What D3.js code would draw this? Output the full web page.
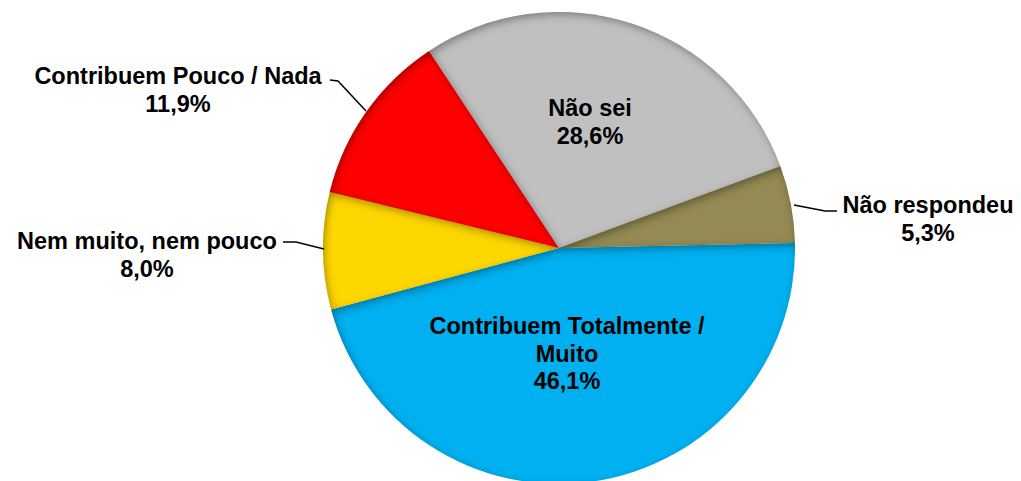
<!DOCTYPE html>
<html><head><meta charset="utf-8">
<script src="https://cdn.jsdelivr.net/npm/d3@7/dist/d3.min.js"></script>
<style>body{margin:0;background:#fff;}text{font-family:"Liberation Sans",Arial,sans-serif;font-weight:bold;font-size:23.5px;fill:#000;}</style>
</head><body><svg id="c" width="1021" height="481"></svg>
<script>
const categories = ["Contribuem Totalmente / Muito","Nem muito, nem pouco","Contribuem Pouco / Nada","Não sei","Não respondeu"];
const values = [46.1,8.0,11.9,28.6,5.3];
const valueLabels = ["46,1%","8,0%","11,9%","28,6%","5,3%"];
const colors = ["#00B0F0","#FFD700","#FF0000","#C0C0C0","#948A54"];
// label layout (style, not data)
const labelLines = [["Contribuem Totalmente /","Muito"],["Nem muito, nem pouco"],["Contribuem Pouco / Nada"],["Não sei"],["Não respondeu"]];
const labelPos = [[567,334],[147,249],[178,84],[590,116],[928,213]];
const leaders = [null,[[283,242],[296,242],[324,249]],[[330,80],[338,81],[366,111]],null,[[837,211],[825,211],[794,205]]];

const svg = d3.select("#c");
const cx = 559, cy = 248, R = 236;
const defs = svg.append("defs");
const f = defs.append("filter").attr("id","inset").attr("x","-10%").attr("y","-10%").attr("width","120%").attr("height","120%");
f.append("feComponentTransfer").attr("in","SourceAlpha").append("feFuncA").attr("type","table").attr("tableValues","1 0");
f.append("feGaussianBlur").attr("stdDeviation",4);
f.append("feOffset").attr("dx",2).attr("dy",3).attr("result","ob");
f.append("feFlood").attr("flood-color","#000").attr("flood-opacity",0.65);
f.append("feComposite").attr("in2","ob").attr("operator","in");
f.append("feComposite").attr("in2","SourceAlpha").attr("operator","in").attr("result","sh");
const m = f.append("feMerge");
m.append("feMergeNode").attr("in","SourceGraphic");
m.append("feMergeNode").attr("in","sh");

const start = Math.PI/2 - 1.2*Math.PI/180;
const pie = d3.pie().sort(null).value(d=>d).startAngle(start).endAngle(start+2*Math.PI);
const arcs = pie(values);
const arc = d3.arc().innerRadius(0).outerRadius(R);
const g = svg.append("g").attr("transform",`translate(${cx},${cy})`);
g.selectAll("path").data(arcs).join("path")
  .attr("d",arc).attr("fill",(d,i)=>colors[i]).attr("filter","url(#inset)");

const line = d3.line();
leaders.forEach(l=>{ if(l) svg.append("path").attr("d",line(l)).attr("fill","none").attr("stroke","#000").attr("stroke-width",1.5); });

categories.forEach((c,i)=>{
  const t = svg.append("text").attr("text-anchor","middle").attr("x",labelPos[i][0]).attr("y",labelPos[i][1]);
  const lines = labelLines[i].concat([valueLabels[i]]);
  lines.forEach((s,j)=>t.append("tspan").attr("x",labelPos[i][0]).attr("dy",j===0?0:27.5).text(s));
});
</script></body></html>
